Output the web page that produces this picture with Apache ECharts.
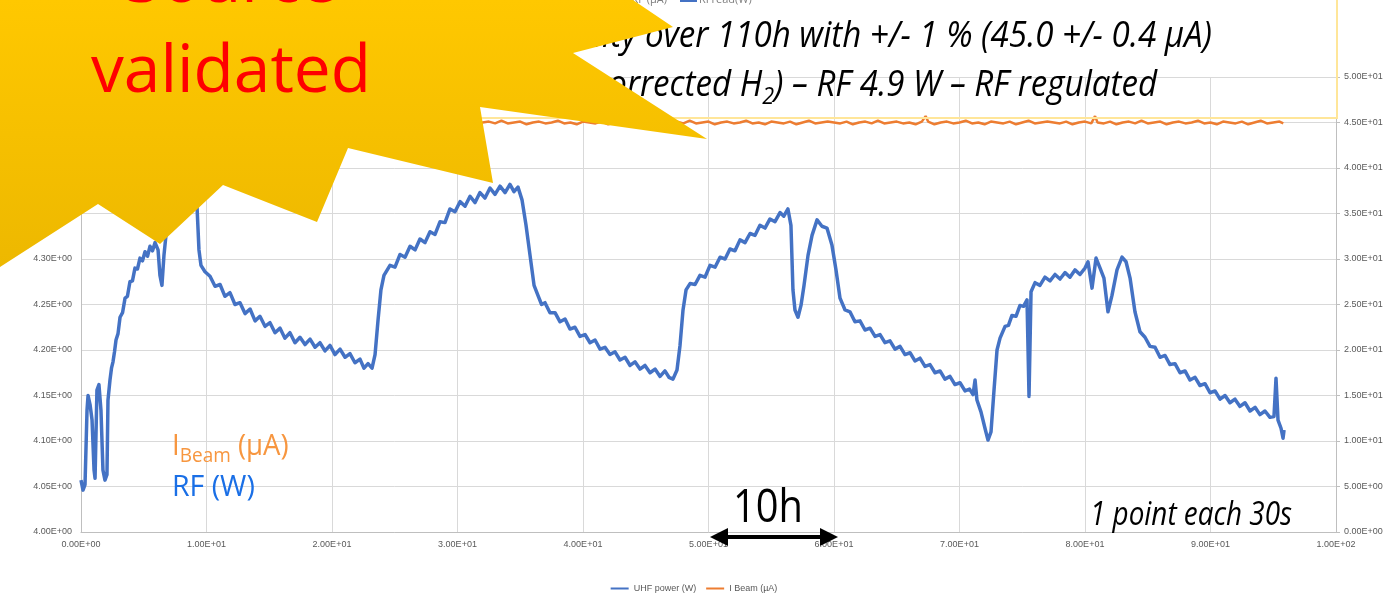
<!DOCTYPE html>
<html>
<head>
<meta charset="utf-8">
<script src="https://cdn.jsdelivr.net/npm/echarts@6/dist/echarts.min.js"></script>
<style>html,body{margin:0;padding:0;background:#fff;}#c{width:1388px;height:598px;}</style>
</head>
<body>
<div id="c"></div>
<script>
// ---- data ----
const xTicks = [0,10,20,30,40,50,60,70,80,90,100];
const rfHours = [0,0.16,0.32,0.48,0.56,0.72,0.88,1.04,1.12,1.27,1.43,1.59,1.75,1.91,2.07,2.15,2.31,2.43,2.55,2.67,2.79,2.95,3.11,3.31,3.51,3.70,3.90,4.10,4.30,4.50,4.70,4.90,5.10,5.30,5.50,5.70,5.90,6.14,6.29,6.45,6.61,6.77,7.10,7.49,7.90,8.29,8.60,8.84,9.08,9.24,9.40,9.56,9.88,10.28,10.68,11.08,11.47,11.87,12.27,12.67,13.07,13.47,13.87,14.26,14.66,15.06,15.46,15.86,16.25,16.65,17.05,17.45,17.85,18.25,18.65,19.04,19.44,19.84,20.24,20.64,21.04,21.43,21.83,22.23,22.55,22.87,23.19,23.43,23.67,23.90,24.14,24.62,25.02,25.42,25.82,26.22,26.62,27.01,27.41,27.81,28.21,28.61,29.00,29.40,29.80,30.20,30.60,31.00,31.40,31.79,32.19,32.59,32.99,33.39,33.79,34.18,34.50,34.82,35.14,35.46,35.78,36.10,36.41,36.70,36.97,37.37,37.77,38.17,38.57,38.96,39.36,39.76,40.16,40.56,40.96,41.36,41.75,42.15,42.55,42.95,43.35,43.75,44.14,44.54,44.94,45.34,45.74,46.14,46.53,46.85,47.17,47.49,47.73,47.97,48.21,48.53,48.93,49.32,49.72,50.12,50.52,50.92,51.32,51.71,52.11,52.51,52.91,53.31,53.71,54.10,54.50,54.90,55.30,55.70,56.00,56.33,56.57,56.73,56.89,57.13,57.37,57.61,57.93,58.25,58.65,59.04,59.44,59.84,60.16,60.48,60.88,61.27,61.67,62.07,62.47,62.87,63.27,63.67,64.06,64.46,64.86,65.26,65.66,66.06,66.45,66.85,67.25,67.65,68.05,68.45,68.84,69.24,69.64,70.04,70.44,70.80,71.08,71.24,71.39,71.71,72.03,72.27,72.51,72.75,72.99,73.23,73.63,73.90,74.18,74.50,74.82,75.10,75.38,75.54,75.70,76.02,76.41,76.81,77.21,77.61,78.01,78.41,78.80,79.20,79.60,80.00,80.24,80.56,80.88,81.20,81.51,81.83,82.15,82.55,82.95,83.27,83.59,83.98,84.38,84.78,85.18,85.58,85.98,86.38,86.77,87.17,87.57,87.97,88.37,88.77,89.16,89.56,89.96,90.36,90.76,91.16,91.55,91.95,92.35,92.75,93.15,93.55,93.94,94.34,94.74,95.06,95.22,95.38,95.62,95.78,95.86];
const rfPower = [4.057,4.046,4.052,4.134,4.150,4.140,4.123,4.068,4.059,4.156,4.162,4.134,4.068,4.057,4.063,4.145,4.167,4.180,4.187,4.198,4.211,4.218,4.236,4.241,4.257,4.259,4.275,4.276,4.290,4.289,4.301,4.298,4.308,4.303,4.314,4.309,4.318,4.310,4.282,4.271,4.304,4.326,4.335,4.341,4.348,4.354,4.357,4.359,4.374,4.359,4.310,4.293,4.286,4.281,4.270,4.272,4.259,4.263,4.250,4.252,4.240,4.245,4.232,4.237,4.226,4.230,4.219,4.224,4.213,4.219,4.208,4.214,4.206,4.212,4.203,4.208,4.199,4.205,4.195,4.201,4.192,4.196,4.186,4.190,4.180,4.185,4.180,4.195,4.233,4.266,4.282,4.293,4.291,4.305,4.302,4.314,4.310,4.322,4.318,4.330,4.327,4.341,4.340,4.355,4.352,4.363,4.358,4.369,4.362,4.373,4.367,4.378,4.371,4.380,4.373,4.382,4.374,4.379,4.365,4.337,4.304,4.271,4.260,4.250,4.252,4.241,4.241,4.231,4.234,4.223,4.225,4.215,4.217,4.208,4.211,4.201,4.203,4.195,4.198,4.189,4.192,4.183,4.187,4.179,4.183,4.175,4.179,4.171,4.177,4.170,4.168,4.178,4.205,4.244,4.266,4.273,4.272,4.282,4.280,4.293,4.291,4.302,4.300,4.311,4.309,4.321,4.318,4.328,4.326,4.337,4.334,4.344,4.341,4.351,4.347,4.355,4.337,4.266,4.244,4.236,4.249,4.271,4.304,4.326,4.343,4.336,4.334,4.315,4.288,4.257,4.244,4.242,4.231,4.232,4.222,4.224,4.215,4.217,4.208,4.210,4.201,4.204,4.195,4.197,4.188,4.191,4.182,4.184,4.175,4.177,4.168,4.171,4.162,4.164,4.155,4.157,4.151,4.167,4.145,4.132,4.114,4.101,4.110,4.156,4.200,4.213,4.226,4.227,4.238,4.237,4.249,4.248,4.255,4.149,4.264,4.274,4.271,4.280,4.276,4.283,4.278,4.285,4.280,4.288,4.283,4.290,4.297,4.268,4.301,4.290,4.279,4.242,4.260,4.288,4.302,4.297,4.279,4.242,4.220,4.214,4.204,4.203,4.192,4.194,4.184,4.185,4.175,4.177,4.167,4.170,4.161,4.163,4.153,4.155,4.146,4.150,4.142,4.146,4.138,4.142,4.133,4.137,4.129,4.133,4.126,4.127,4.169,4.123,4.114,4.103,4.112];
const beamHours = [
  0,0.5,1,1.5,2,2.5,3,3.5,4,4.5,
  5,5.5,6,6.5,7,7.5,8,8.5,9,9.5,
  10,10.5,11,11.5,12,12.5,13,13.5,14,14.5,
  15,15.5,16,16.5,17,17.5,18,18.5,19,19.5,
  20,20.5,21,21.5,22,22.5,23,23.5,24,24.5,
  25,25.5,26,26.5,27,27.5,28,28.5,29,29.5,
  30,30.5,31,31.5,32,32.5,33,33.5,34,34.5,
  35,35.5,36,36.5,37,37.5,38,38.5,39,39.5,
  40,40.5,41,41.5,42,42.5,43,43.5,44,44.5,
  45,45.5,46,46.5,47,47.5,48,48.5,49,49.5,
  50,50.5,51,51.5,52,52.5,53,53.5,54,54.5,
  55,55.5,56,56.5,57,57.5,58,58.5,59,59.5,
  60,60.5,61,61.5,62,62.5,63,63.5,64,64.5,
  65,65.5,66,66.5,67,
  67.3,
  67.5,68,68.5,69,69.5,70,70.5,71,71.5,72,
  72.5,73,73.5,74,74.5,75,75.5,76,76.5,77,
  77.5,78,78.5,79,79.5,80,80.5,
  80.8,
  81,81.5,82,82.5,83,83.5,84,84.5,85,85.5,
  86,86.5,87,87.5,88,88.5,89,89.5,90,90.5,
  91,91.5,92,92.5,93,93.5,94,94.5,95,95.5,
  95.8];
const beamCurrent = [
  45.0,44.9,45.1,44.8,45.0,45.1,44.9,45.2,44.9,45.0,
  45.1,44.8,45.0,45.1,44.9,45.0,45.2,44.9,45.0,44.8,
  45.1,45.0,44.9,45.1,44.8,45.0,45.2,44.9,45.0,45.1,
  45.0,44.9,45.1,44.8,45.0,45.1,44.9,45.2,44.9,45.0,
  45.1,44.8,45.0,45.1,44.9,45.0,45.2,44.9,45.0,44.8,
  45.1,45.0,44.9,45.1,44.8,45.0,45.2,44.9,45.0,45.1,
  45.0,44.9,45.1,44.8,45.0,45.1,44.9,45.2,44.9,45.0,
  45.1,44.8,45.0,45.1,44.9,45.0,45.2,44.9,45.0,44.8,
  45.1,45.0,44.9,45.1,44.8,45.0,45.2,44.9,45.0,45.1,
  45.0,44.9,45.1,44.8,45.0,45.1,44.9,45.2,44.9,45.0,
  45.1,44.8,45.0,45.1,44.9,45.0,45.2,44.9,45.0,44.8,
  45.1,45.0,44.9,45.1,44.8,45.0,45.2,44.9,45.0,45.1,
  45.0,44.9,45.1,44.8,45.0,45.1,44.9,45.2,44.9,45.0,
  45.1,44.9,45.0,44.8,45.1,
  45.7,
  45.1,44.8,45.0,45.1,44.9,45.0,45.2,44.9,45.0,44.8,
  45.1,45.0,44.9,45.1,44.8,45.0,45.2,44.9,45.0,45.1,
  45.0,44.9,45.1,44.8,45.0,45.1,44.9,
  45.7,
  45.0,44.9,45.1,44.8,45.0,45.1,44.9,45.2,44.9,45.0,
  45.1,44.8,45.0,45.1,44.9,45.0,45.2,44.9,45.0,44.8,
  45.1,45.0,44.9,45.1,44.8,45.0,45.2,44.9,45.0,45.1,
  44.9];
const seriesNames = ['UHF power (W)', 'I Beam (µA)'];

// ---- helpers ----
const mctx = document.createElement('canvas').getContext('2d');
function tw(text, font){ mctx.font = font; return mctx.measureText(text).width; }
function fmt(v){ const s = Number(v).toExponential(2); const p = s.split('e'); const sign = p[1][0]; const d = p[1].slice(1).padStart(2,'0'); return p[0] + 'E' + sign + d; }

const rfData = rfHours.map((h,i)=>[h, rfPower[i]]);
const beamData = beamHours.map((h,i)=>[h, beamCurrent[i]]);

const chart = echarts.init(document.getElementById('c'), null, {renderer:'canvas'});

// title layout
const TF = 'italic 37px "Open Sans"';
const TFs = 'italic 24px "Open Sans"';
const t1 = 'Stability over 110h with +/- 1 % (45.0 +/- 0.4 µA)';
const t1vis = 'over 110h with +/- 1 % (45.0 +/- 0.4 µA)';
const s1 = 567 / tw(t1vis, TF);
const t2a = '(non-corrected H', t2b = '2', t2c = ') – RF 4.9 W – RF regulated';
const x2c = 1157 - tw(t2c, TF)*s1;
const x2b = x2c - tw(t2b, TFs)*s1;

const VF = 'normal 66px "Open Sans"';
const sv = 280 / tw('validated', VF);

const BF = 'normal 29px "Open Sans"', BFs = 'normal 20px "Open Sans"';
const bx1 = 172 + tw('I', BF)*0.95;
const bx2 = bx1 + tw('Beam', BFs)*0.95;

const PF = 'italic 32px "Open Sans"';
const sp = 202 / tw('1 point each 30s', PF);
const HF = 'normal 46px "Open Sans"';
const sh = 70 / tw('10h', HF);

const graphics = [
  // partial top legend of the overlaid chart
  {type:'text', x:667, y:0, z:50, style:{text:'RF (µA)', font:'normal 11px "Open Sans"', fill:'#7f7f7f', textAlign:'right', textVerticalAlign:'middle'}},
  {type:'rect', z:50, shape:{x:680, y:-1, width:17, height:3}, style:{fill:'#4472C4'}},
  {type:'text', x:699, y:0, z:50, style:{text:'RFread(W)', font:'normal 11px "Open Sans"', fill:'#7f7f7f', textAlign:'left', textVerticalAlign:'middle'}},
  // title box
  {type:'rect', z:50, shape:{x:460, y:-10, width:877, height:128}, style:{fill:'none', stroke:'#FFE699', lineWidth:2}},
  // title lines
  {type:'text', x:1212, y:36, scaleX:s1, z:60, style:{text:t1, font:TF, fill:'#000', textAlign:'right', textVerticalAlign:'middle'}},
  {type:'text', x:x2b, y:85, scaleX:s1, z:60, style:{text:t2a, font:TF, fill:'#000', textAlign:'right', textVerticalAlign:'middle'}},
  {type:'text', x:x2b, y:97, scaleX:s1, z:60, style:{text:t2b, font:TFs, fill:'#000', textAlign:'left', textVerticalAlign:'middle'}},
  {type:'text', x:x2c, y:85, scaleX:s1, z:60, style:{text:t2c, font:TF, fill:'#000', textAlign:'left', textVerticalAlign:'middle'}},
  // star burst
  {type:'polygon', z:90, shape:{points:[[0,0],[633,0],[673,27],[573,53],[707,139],[480,107],[493,183],[348,148],[317,222],[223,185],[160,244],[98,204],[0,267]]},
    style:{fill:new echarts.graphic.LinearGradient(0,0,0,1,[{offset:0,color:'#FFC800'},{offset:1,color:'#EDB800'}])}},
  {type:'text', x:231, y:-17, scaleX:sv, z:100, style:{text:'Source', font:VF, fill:'#FF0000', textAlign:'center', textVerticalAlign:'middle'}},
  {type:'text', x:231, y:73, scaleX:sv, z:100, style:{text:'validated', font:VF, fill:'#FF0000', textAlign:'center', textVerticalAlign:'middle'}},
  // annotations
  {type:'text', x:172, y:447, scaleX:0.95, z:100, style:{text:'I', font:BF, fill:'#F7963F', textAlign:'left', textVerticalAlign:'middle'}},
  {type:'text', x:bx1, y:456, scaleX:0.95, z:100, style:{text:'Beam', font:BFs, fill:'#F7963F', textAlign:'left', textVerticalAlign:'middle'}},
  {type:'text', x:bx2, y:447, scaleX:0.95, z:100, style:{text:' (µA)', font:BF, fill:'#F7963F', textAlign:'left', textVerticalAlign:'middle'}},
  {type:'text', x:172, y:487, scaleX:0.95, z:100, style:{text:'RF (W)', font:'normal 30px "Open Sans"', fill:'#1A6FE6', textAlign:'left', textVerticalAlign:'middle'}},
  {type:'text', x:733, y:509, scaleX:sh, z:100, style:{text:'10h', font:HF, fill:'#000', textAlign:'left', textVerticalAlign:'middle'}},
  {type:'line', z:100, shape:{x1:722, y1:537, x2:826, y2:537}, style:{stroke:'#000', lineWidth:4}},
  {type:'polygon', z:100, shape:{points:[[710,537],[728,528],[728,546]]}, style:{fill:'#000'}},
  {type:'polygon', z:100, shape:{points:[[838,537],[820,528],[820,546]]}, style:{fill:'#000'}},
  {type:'text', x:1090, y:516, scaleX:sp, z:100, style:{text:'1 point each 30s', font:PF, fill:'#000', textAlign:'left', textVerticalAlign:'middle'}}
];

const labelStyle = {color:'#595959', fontSize:9, fontFamily:'"Liberation Sans", sans-serif'};

chart.setOption({
  animation:false,
  backgroundColor:'#fff',
  grid:{left:81, right:52, top:77, bottom:66, containLabel:false},
  legend:{bottom:0, left:'center', itemWidth:18, itemHeight:2, itemGap:10, icon:'rect',
    data:seriesNames, textStyle:{color:'#595959', fontSize:9, fontFamily:'"Liberation Sans", sans-serif'}},
  xAxis:{type:'value', min:xTicks[0], max:xTicks[xTicks.length-1], interval:10,
    axisLine:{show:true, lineStyle:{color:'#BFBFBF'}}, axisTick:{show:false},
    axisLabel:Object.assign({formatter:fmt, margin:8}, labelStyle),
    splitLine:{show:true, lineStyle:{color:'#D9D9D9', width:1}}},
  yAxis:[
    {type:'value', min:4, max:4.5, interval:0.05, position:'left',
      axisLine:{show:true, lineStyle:{color:'#BFBFBF'}}, axisTick:{show:false},
      axisLabel:Object.assign({formatter:fmt, margin:9}, labelStyle),
      splitLine:{show:true, lineStyle:{color:'#D9D9D9', width:1}}},
    {type:'value', min:0, max:50, interval:5, position:'right',
      axisLine:{show:true, lineStyle:{color:'#BFBFBF'}}, axisTick:{show:true, length:4, lineStyle:{color:'#BFBFBF'}},
      axisLabel:Object.assign({formatter:fmt, margin:8}, labelStyle),
      splitLine:{show:false}}
  ],
  series:[
    {name:seriesNames[0], type:'line', data:rfData, yAxisIndex:0, showSymbol:false, symbol:'none', color:'#4472C4', lineStyle:{color:'#4472C4', width:3.5, join:'round'}, z:3},
    {name:seriesNames[1], type:'line', data:beamData, yAxisIndex:1, showSymbol:false, symbol:'none', color:'#ED7D31', lineStyle:{color:'#ED7D31', width:2.5}, z:2}
  ],
  graphic:graphics
});
</script>
</body>
</html>
